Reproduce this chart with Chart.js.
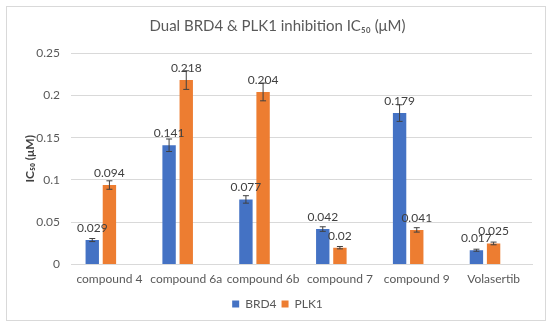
<!DOCTYPE html>
<html>
<head>
<meta charset="utf-8">
<script src="https://cdn.jsdelivr.net/npm/chart.js@4"></script>
<style>
  html, body { margin: 0; padding: 0; background: #fff; }
  .frame {
    position: absolute; left: 6px; top: 6px;
    width: 538px; height: 313px;
    border: 1px solid #d9d9d9;
  }
</style>
</head>
<body>
<div class="frame"><canvas id="chart" width="538" height="313"></canvas></div>
<script>
const categories = ['compound 4', 'compound 6a', 'compound 6b', 'compound 7', 'compound 9', 'Volasertib']
const brd4 = [0.029, 0.141, 0.077, 0.042, 0.179, 0.017]
const plk1 = [0.094, 0.218, 0.204, 0.02, 0.041, 0.025]
const brd4Err = [0.0018, 0.0074, 0.0044, 0.0027, 0.0098, 0.0012]
const plk1Err = [0.005, 0.011, 0.0105, 0.0014, 0.0026, 0.0016]
const emptySeries = [null, null, null, null, null, null]
const yTicks = [0, 0.05, 0.1, 0.15, 0.2, 0.25]

const FONT = 'Lato'
const TEXT = '#595959'

// error bars + value labels, placed through the chart's own scales
const barExtras = {
    id: 'barExtras',
    afterDatasetsDraw(chart) {
        const ctx = chart.ctx
        const y = chart.scales.y
        chart.data.datasets.forEach((ds, di) => {
            if (!ds.err) return
            const meta = chart.getDatasetMeta(di)
            meta.data.forEach((bar, i) => {
                const v = ds.data[i]
                const e = ds.err[i]
                const top = y.getPixelForValue(v + e)
                const bot = y.getPixelForValue(v - e)
                ctx.save()
                ctx.strokeStyle = '#404040'
                ctx.lineWidth = 1
                ctx.beginPath()
                ctx.moveTo(bar.x, top); ctx.lineTo(bar.x, bot)
                ctx.moveTo(bar.x - 3, top); ctx.lineTo(bar.x + 3, top)
                ctx.moveTo(bar.x - 3, bot); ctx.lineTo(bar.x + 3, bot)
                ctx.stroke()
                ctx.fillStyle = '#404040'
                ctx.font = '12px ' + FONT
                ctx.textAlign = 'center'
                ctx.textBaseline = 'middle'
                ctx.fillText(String(v), bar.x, y.getPixelForValue(v) - 12)
                ctx.restore()
            })
        })
    }
}

new Chart(document.getElementById('chart'), {
    type: 'bar',
    data: {
        labels: categories,
        datasets: [
            { label: 'BRD4', data: brd4, err: brd4Err, backgroundColor: '#4472C4' },
            { label: 'PLK1', data: plk1, err: plk1Err, backgroundColor: '#ED7D31' },
            { label: '', data: emptySeries, backgroundColor: 'rgba(0,0,0,0)' }
        ]
    },
    options: {
        responsive: false,
        animation: false,
        categoryPercentage: 0.67,
        barPercentage: 0.78,
        layout: { padding: { left: 16, right: 13, top: 0, bottom: 0 } },
        plugins: {
            title: {
                display: true,
                text: 'Dual BRD4 & PLK1 inhibition IC₅₀ (μM)',
                color: TEXT,
                font: { family: FONT, size: 15, weight: 'normal' },
                padding: { top: 10, bottom: 18 }
            },
            legend: {
                position: 'bottom',
                labels: {
                    filter: item => item.text !== '',
                    boxWidth: 7, boxHeight: 7,
                    color: TEXT,
                    font: { family: FONT, size: 12 },
                    padding: 5
                }
            },
            tooltip: { enabled: false }
        },
        scales: {
            x: {
                grid: { display: false, drawTicks: false },
                border: { color: '#d9d9d9' },
                ticks: { color: TEXT, font: { family: FONT, size: 12 }, maxRotation: 0, padding: 7 }
            },
            y: {
                min: 0, max: 0.25,
                afterBuildTicks: s => { s.ticks = yTicks.map(v => ({ value: v })) },
                afterFit: s => { s.width = 48 },
                grid: { color: '#d9d9d9', drawTicks: false },
                border: { display: false },
                ticks: {
                    color: TEXT, font: { family: FONT, size: 12 }, padding: 11,
                    callback: v => String(Math.round(v * 100) / 100)
                },
                title: {
                    display: true,
                    text: 'IC₅₀ (μM)',
                    color: '#404040',
                    font: { family: FONT, size: 12, weight: 'bold' },
                    padding: { top: 0, bottom: 4 }
                }
            }
        }
    },
    plugins: [barExtras]
})
</script>
</body>
</html>
